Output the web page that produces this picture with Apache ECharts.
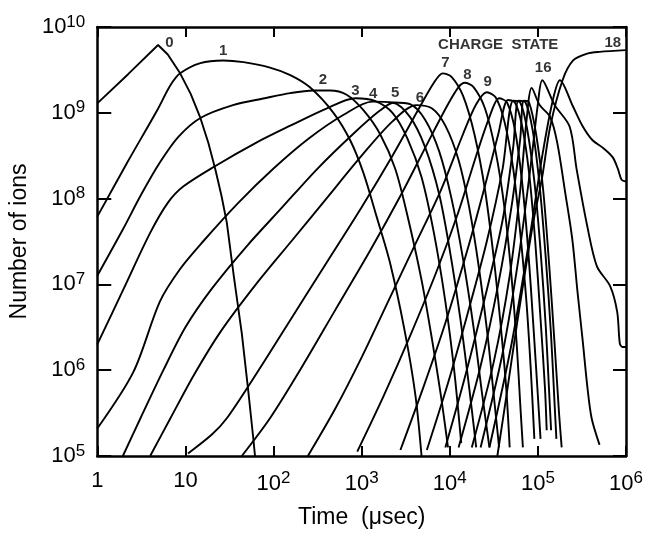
<!DOCTYPE html>
<html>
<head>
<meta charset="utf-8">
<script src="https://cdn.jsdelivr.net/npm/echarts@6/dist/echarts.min.js"></script>
<style>
  html, body { margin: 0; padding: 0; background: #fff; }
  #main { width: 666px; height: 534px; }
</style>
</head>
<body>
<div id="main"></div>
<script>
// values, as [log10(time in usec), log10(number of ions)]
var q0 = [[0,9.11],[0.35,9.45],[0.69,9.79],[0.8,9.68],[0.94,9.46],[1.06,9.22],[1.17,8.94],[1.26,8.65],[1.34,8.34],[1.41,8.03],[1.47,7.72],[1.55,7.09],[1.64,6.43],[1.71,5.79],[1.77,5.21],[1.79,5.0]];
var q1 = [[0,7.79],[0.34,8.42],[0.68,9.03],[0.83,9.32],[0.94,9.46],[1.17,9.58],[1.43,9.61],[1.66,9.59],[1.95,9.53],[2.19,9.44],[2.41,9.30],[2.68,9.0],[2.87,8.68],[3.02,8.30],[3.17,7.79],[3.32,7.26],[3.49,6.45],[3.61,5.71],[3.68,5.0]];
var q2 = [[0,7.10],[0.29,7.64],[0.5,8.05],[0.71,8.42],[0.92,8.72],[1.17,8.94],[1.54,9.09],[1.9,9.17],[2.19,9.23],[2.45,9.26],[2.64,9.26],[2.83,9.21],[3.02,9.03],[3.21,8.75],[3.38,8.35],[3.52,7.8],[3.68,7.05],[3.8,6.35],[3.9,5.7],[3.98,5.1]];
var q3 = [[0,6.30],[0.3,6.95],[0.6,7.6],[0.8,7.95],[0.975,8.14],[1.34,8.38],[1.8,8.65],[2.19,8.85],[2.6,9.05],[2.93,9.17],[3.15,9.14],[3.35,9.0],[3.52,8.7],[3.68,8.25],[3.82,7.6],[3.95,6.8],[4.05,6.0],[4.13,5.15]];
var q4 = [[0,5.32],[0.41,5.98],[0.71,6.8],[0.94,7.18],[1.2,7.5],[1.6,7.95],[2.0,8.35],[2.4,8.7],[2.8,8.98],[3.12,9.13],[3.35,9.12],[3.55,8.95],[3.72,8.6],[3.88,8.05],[4.0,7.4],[4.12,6.6],[4.22,5.8],[4.3,5.1]];
var q5 = [[0.29,5.0],[0.49,5.44],[0.75,6.0],[1.0,6.5],[1.3,6.95],[1.7,7.45],[2.1,7.9],[2.5,8.35],[2.9,8.75],[3.2,9.02],[3.37,9.12],[3.55,9.1],[3.72,8.92],[3.88,8.55],[4.02,8.0],[4.15,7.3],[4.27,6.5],[4.37,5.7],[4.45,5.1]];
var q6 = [[0.6,5.0],[0.83,5.44],[1.1,5.95],[1.4,6.45],[1.8,7.0],[2.2,7.5],[2.6,8.0],[3.0,8.5],[3.35,8.9],[3.62,9.09],[3.8,9.05],[3.95,8.85],[4.1,8.45],[4.22,7.9],[4.33,7.2],[4.43,6.4],[4.5,5.7],[4.56,5.1]];
var q7 = [[1.03,5.03],[1.3,5.25],[1.47,5.44],[1.8,5.95],[2.2,6.6],[2.6,7.25],[3.0,7.9],[3.35,8.5],[3.65,9.05],[3.82,9.35],[3.92,9.46],[4.02,9.42],[4.15,9.2],[4.28,8.75],[4.4,8.1],[4.5,7.3],[4.58,6.5],[4.64,5.8],[4.68,5.1]];
var q8 = [[1.64,5.0],[1.96,5.44],[2.3,6.0],[2.7,6.7],[3.1,7.4],[3.45,8.05],[3.75,8.65],[3.98,9.1],[4.1,9.3],[4.17,9.35],[4.27,9.3],[4.4,9.05],[4.52,8.55],[4.62,7.9],[4.7,7.1],[4.76,6.3],[4.8,5.6],[4.83,5.1]];
var q9 = [[2.39,5.0],[2.7,5.55],[3.0,6.15],[3.3,6.8],[3.6,7.45],[3.9,8.1],[4.15,8.75],[4.3,9.1],[4.42,9.24],[4.52,9.18],[4.62,8.9],[4.72,8.35],[4.8,7.6],[4.87,6.8],[4.92,6.0],[4.96,5.2]];
var q10 = [[2.95,5.05],[3.25,5.7],[3.55,6.4],[3.85,7.15],[4.1,7.85],[4.3,8.5],[4.45,8.95],[4.56,9.17],[4.65,9.12],[4.74,8.8],[4.82,8.2],[4.89,7.4],[4.95,6.5],[5.0,5.7],[5.03,5.2]];
var q11 = [[3.44,5.07],[3.7,5.8],[3.95,6.55],[4.2,7.4],[4.4,8.15],[4.55,8.75],[4.66,9.15],[4.74,9.12],[4.82,8.85],[4.9,8.3],[4.97,7.5],[5.03,6.6],[5.08,5.8],[5.1,5.3]];
var q12 = [[3.74,5.07],[3.98,5.85],[4.2,6.65],[4.42,7.5],[4.6,8.35],[4.72,9.14],[4.8,9.12],[4.88,8.8],[4.96,8.2],[5.03,7.4],[5.09,6.5],[5.13,5.7],[5.15,5.3]];
var q13 = [[3.95,5.1],[4.18,5.95],[4.4,6.85],[4.6,7.75],[4.72,8.6],[4.78,9.14],[4.86,9.12],[4.94,8.8],[5.02,8.15],[5.09,7.3],[5.15,6.4],[5.19,5.6],[5.21,5.2]];
var q14 = [[4.1,5.1],[4.35,6.05],[4.55,7.0],[4.7,7.9],[4.8,8.7],[4.84,9.14],[4.9,9.12],[4.98,8.75],[5.06,8.1],[5.13,7.2],[5.19,6.3],[5.24,5.5],[5.27,5.1]];
var q15 = [[4.25,5.1],[4.5,6.1],[4.68,7.1],[4.8,8.1],[4.87,8.9],[4.93,9.29],[5.02,9.09],[5.14,8.95],[5.22,8.65],[5.31,8.07],[5.39,7.53],[5.45,6.91],[5.51,6.33],[5.56,5.82],[5.61,5.44],[5.70,5.13]];
var q16 = [[4.35,5.1],[4.6,6.2],[4.78,7.3],[4.92,8.4],[5.0,9.1],[5.05,9.38],[5.19,9.09],[5.36,8.84],[5.44,8.34],[5.56,7.68],[5.67,7.21],[5.82,6.98],[5.9,6.68],[5.93,6.31],[5.96,6.27],[6.0,6.27]];
var q17 = [[4.45,5.1],[4.7,6.3],[4.9,7.5],[5.05,8.5],[5.17,9.15],[5.25,9.38],[5.4,9.07],[5.51,8.84],[5.62,8.68],[5.74,8.59],[5.85,8.48],[5.91,8.34],[5.95,8.22],[6.0,8.2]];
var q18 = [[4.54,5.0],[4.65,5.75],[4.76,6.52],[4.94,7.68],[5.05,8.26],[5.14,8.84],[5.28,9.38],[5.4,9.61],[5.56,9.69],[5.7,9.71],[6.0,9.73]];

var curves = [q0, q1, q2, q3, q4, q5, q6, q7, q8, q9, q10, q11, q12, q13, q14, q15, q16, q17, q18];

// peak labels, [text, log10 t, log10 N]
var stateLabels = [['0',0.82,9.81],['1',1.43,9.72],['2',2.56,9.38],['3',2.93,9.26],['4',3.13,9.22],['5',3.38,9.23],['6',3.66,9.17],['7',3.95,9.58],['8',4.2,9.44],['9',4.43,9.36],['16',5.06,9.52],['18',5.85,9.82],['CHARGE  STATE',4.55,9.79]];

var myChart = echarts.init(document.getElementById('main'));

function p10(a) { return [Math.pow(10, a[0]), Math.pow(10, a[1])]; }

function expLabel(v) {
  var e = Math.round(Math.log(v) / Math.LN10);
  if (e === 0) return '{b|1}';
  if (e === 1) return '{b|10}';
  return '{b|10}{s|' + e + '}';
}

var tickRich = {
  b: { fontFamily: 'Liberation Sans', fontSize: 22, color: '#000' },
  s: { fontFamily: 'Liberation Sans', fontSize: 17, color: '#000', verticalAlign: 'top', padding: [0, 0, 10, 0] }
};

var series = curves.map(function (c, i) {
  return {
    type: 'line',
    data: c.map(p10),
    showSymbol: false,
    smooth: i === 0 ? false : 0.3,
    lineStyle: { color: '#000', width: 1.9 },
    silent: true,
    z: 3
  };
});

series.push({
  type: 'scatter',
  symbolSize: 0,
  data: stateLabels.map(function (l) { return { name: l[0], value: p10([l[1], l[2]]) }; }),
  label: {
    show: true, position: 'inside', formatter: '{b}',
    fontFamily: 'Liberation Sans', fontSize: 15, fontWeight: 'bold', color: '#000'
  },
  silent: true,
  z: 5
});

var axisStyle = { lineStyle: { color: '#000', width: 2.5 } };

option = {
  animation: false,
  backgroundColor: '#fff',
  grid: { left: 97, right: 40, top: 27, bottom: 76 },
  xAxis: [{
    type: 'log', logBase: 10, min: 1, max: 1e6, splitNumber: 6,
    axisLine: axisStyle,
    axisTick: { inside: true, length: 10, lineStyle: { color: '#000', width: 2 } },
    axisLabel: { formatter: expLabel, rich: tickRich, margin: 14 },
    splitLine: { show: false },
    name: 'Time  (\u03bcsec)', nameLocation: 'middle', nameGap: 50,
    nameTextStyle: { fontFamily: 'Liberation Sans', fontSize: 23, color: '#000' }
  }, {
    type: 'log', logBase: 10, min: 1, max: 1e6, splitNumber: 6, position: 'top',
    axisLine: axisStyle,
    axisTick: { inside: true, length: 10, lineStyle: { color: '#000', width: 2 } },
    axisLabel: { show: false }, splitLine: { show: false }
  }],
  yAxis: [{
    type: 'log', logBase: 10, min: 1e5, max: 1e10, splitNumber: 5,
    axisLine: axisStyle,
    axisTick: { inside: true, length: 14, lineStyle: { color: '#000', width: 2 } },
    axisLabel: { formatter: expLabel, rich: tickRich, margin: 12 },
    splitLine: { show: false },
    name: 'Number of ions', nameLocation: 'middle', nameGap: 64, nameRotate: 90,
    nameTextStyle: { fontFamily: 'Liberation Sans', fontSize: 23, color: '#000' }
  }, {
    type: 'log', logBase: 10, min: 1e5, max: 1e10, splitNumber: 5, position: 'right',
    axisLine: axisStyle,
    axisTick: { inside: true, length: 13, lineStyle: { color: '#000', width: 2 } },
    axisLabel: { show: false }, splitLine: { show: false }
  }],
  series: series
};

myChart.setOption(option);
</script>
</body>
</html>
